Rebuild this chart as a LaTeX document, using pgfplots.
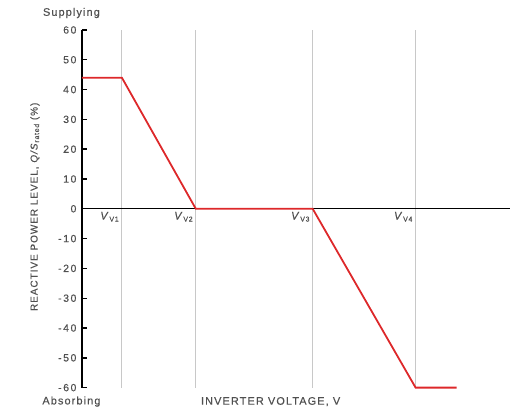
\documentclass[border=0pt]{standalone}
\usepackage{pgfplots}
\pgfplotsset{compat=1.18}
\usepackage{fontspec}
\setmainfont{Liberation Sans}[FakeBold=0.3]
\definecolor{redline}{RGB}{221,40,42}
\definecolor{txt}{RGB}{80,80,80}
\definecolor{gridc}{RGB}{200,200,200}
\newcommand{\vv}[1]{\textit{V}\hspace{1bp}\raisebox{-2bp}{\fontsize{7}{8}\selectfont\addfontfeature{LetterSpace=10}V#1}}
\begin{document}
\begin{tikzpicture}
\begin{axis}[
  name=ax,
  scale only axis,
  width=428bp, height=358bp,
  xmin=0, xmax=428, ymin=-60, ymax=60,
  axis y line=left, axis x line=middle,
  axis line style={-},
  y axis line style={line width=1.4pt, black},
  x axis line style={line width=1pt, black},
  xtick={40,114,231,334}, xticklabels={},
  xmajorgrids,
  x tick style={draw=none},
  major x grid style={gridc, line width=0.8pt},
  ytick={-60,-50,...,60},
  tick align=inside,
  major tick length=5bp,
  y tick style={line width=1.4pt, black},
  yticklabel style={font=\fontsize{10.5}{12}\selectfont\addfontfeature{LetterSpace=15}, text=txt, xshift=-2bp},
  /pgf/number format/assume math mode=true,
  clip=false,
]
\addplot[redline, line width=1.8pt] coordinates {
  (0,44) (40,44) (114,0) (231,0) (334,-60) (375,-60)
};
\begin{scope}[every node/.style={font=\fontsize{11}{12}\selectfont, text=txt, inner sep=0pt}]
\node[anchor=north east] at (axis cs:37,-1.0) {\vv{1}};
\node[anchor=north east] at (axis cs:111,-1.0) {\vv{2}};
\node[anchor=north east] at (axis cs:228,-1.0) {\vv{3}};
\node[anchor=north east] at (axis cs:331,-1.0) {\vv{4}};
\end{scope}
\end{axis}
\begin{scope}[every node/.style={font=\fontsize{11}{12}\selectfont\addfontfeature{LetterSpace=10}, text=txt, inner sep=0pt}]
\node at ([xshift=-10.5bp,yshift=17bp]ax.north west) {Supplying};
\node at ([xshift=-10.5bp,yshift=-14bp]ax.south west) {Absorbing};
\node[anchor=west] at ([xshift=119bp,yshift=-14bp]ax.south west) {INVERTER VOLTAGE, V};
\node[rotate=90, font=\fontsize{10}{12}\selectfont\addfontfeature{LetterSpace=10}] at ([xshift=-47bp,yshift=2bp]ax.west) {REACTIVE POWER LEVEL, \textit{Q/S}\raisebox{-1.5bp}{\fontsize{7}{8}\selectfont rated} (\%)};
\end{scope}
\path (ax.south west) ++(-82bp,-24bp) rectangle ++(510bp,412bp);
\end{tikzpicture}
\end{document}
